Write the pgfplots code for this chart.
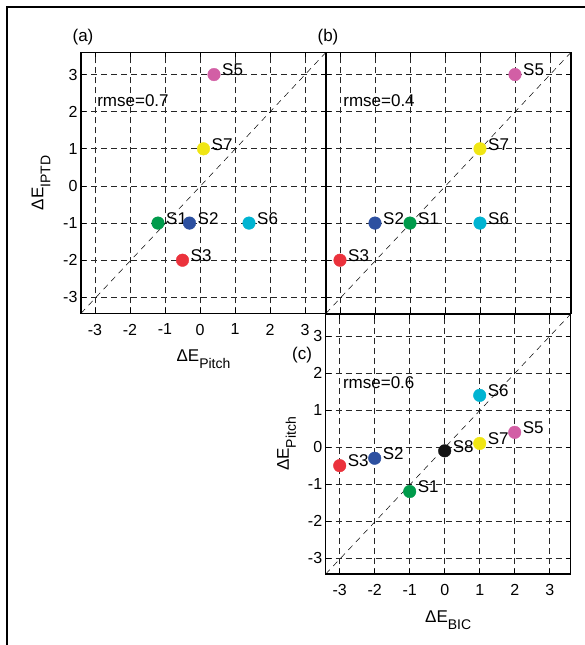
\documentclass[border=0pt]{standalone}
\usepackage{pgfplots}
\pgfplotsset{compat=1.18}
\usepackage{fontspec}
\setmainfont{Liberation Sans}
\definecolor{cS1}{RGB}{0,155,75}
\definecolor{cS2}{RGB}{45,80,160}
\definecolor{cS3}{RGB}{235,50,60}
\definecolor{cS5}{RGB}{210,95,165}
\definecolor{cS6}{RGB}{0,180,210}
\definecolor{cS7}{RGB}{240,230,20}
\definecolor{cS8}{RGB}{20,20,20}
\newcommand{\lsub}[1]{\raisebox{-7pt}{\fontsize{14}{14}\selectfont #1}}
\pgfplotsset{
  panel/.style={
    scale only axis, width=245pt, height=261pt,
    xmin=-3.4, xmax=3.6, ymin=-3.43, ymax=3.6,
    xtick={-3,-2,-1,0,1,2,3}, ytick={-3,-2,-1,0,1,2,3},
    grid=major,
    major grid style={dash pattern=on 6pt off 4pt, black!85, line width=0.7pt},
    tick align=inside, tick pos=both, major tick length=5pt,
    axis line style={line width=1.1pt},
    every tick/.style={black, line width=0.7pt},
    /pgf/number format/assume math mode=true,
    ticklabel style={font=\fontsize{16}{16}\selectfont},
    xticklabel style={yshift=-7pt},
    label style={font=\fontsize{17}{17}\selectfont},
    xlabel style={yshift=-8pt},
    ylabel style={yshift=6pt},
    clip=false,
  },
  spt/.style={only marks, mark=*, mark size=6.3pt, color=#1,
    nodes near coords, point meta=explicit symbolic,
    nodes near coords align={anchor=west},
    every node near coord/.append style={text=black, font=\fontsize{17}{17}\selectfont, inner sep=0pt, xshift=8pt, yshift=4.5pt}},
  diag/.style={black, line width=0.5pt, dash pattern=on 6pt off 5pt, forget plot},
}
\begin{document}
\begin{tikzpicture}
\useasboundingbox (0pt,0pt) rectangle (585pt,-645pt);
\draw[line width=2pt] (7pt,-650pt) -- (7pt,-7pt) -- (590pt,-7pt);

% (a)
\begin{axis}[panel, at={(81pt,-313.3pt)}, anchor=south west,
  xlabel={ΔE\lsub{Pitch}}, ylabel={ΔE\lsub{IPTD}}]
\addplot[diag] coordinates {(-3.4,-3.43) (3.6,3.6)};
\addplot[spt=cS1] coordinates {(-1.2,-1) [S1]};
\addplot[spt=cS2] coordinates {(-0.3,-1) [S2]};
\addplot[spt=cS3] coordinates {(-0.5,-2) [S3]};
\addplot[spt=cS5] coordinates {(0.4,3) [S5]};
\addplot[spt=cS6] coordinates {(1.4,-1) [S6]};
\addplot[spt=cS7] coordinates {(0.1,1) [S7]};
\node[anchor=west, inner sep=0pt, font=\fontsize{17}{17}\selectfont] at (axis cs:-2.94,2.29) {rmse=0.7};
\end{axis}

% (b)
\begin{axis}[panel, at={(326pt,-313.3pt)}, anchor=south west,
  xticklabels={}, yticklabels={}]
\addplot[diag] coordinates {(-3.4,-3.43) (3.6,3.6)};
\addplot[spt=cS1] coordinates {(-1,-1) [S1]};
\addplot[spt=cS2] coordinates {(-2,-1) [S2]};
\addplot[spt=cS3] coordinates {(-3,-2) [S3]};
\addplot[spt=cS5] coordinates {(2,3) [S5]};
\addplot[spt=cS6] coordinates {(1,-1) [S6]};
\addplot[spt=cS7] coordinates {(1,1) [S7]};
\node[anchor=west, inner sep=0pt, font=\fontsize{17}{17}\selectfont] at (axis cs:-2.91,2.29) {rmse=0.4};
\end{axis}

% (c)
\begin{axis}[panel, at={(325.7pt,-574pt)}, anchor=south west, height=260pt,
  xlabel={ΔE\lsub{BIC}}, ylabel={ΔE\lsub{Pitch}}, ylabel style={yshift=-1pt}]
\addplot[diag] coordinates {(-3.4,-3.43) (3.6,3.6)};
\addplot[spt=cS1] coordinates {(-1,-1.2) [S1]};
\addplot[spt=cS2] coordinates {(-2,-0.3) [S2]};
\addplot[spt=cS3] coordinates {(-3,-0.5) [S3]};
\addplot[spt=cS5] coordinates {(2,0.4) [S5]};
\addplot[spt=cS6] coordinates {(1,1.4) [S6]};
\addplot[spt=cS7] coordinates {(1,0.1) [S7]};
\addplot[spt=cS8] coordinates {(0,-0.1) [S8]};
\node[anchor=west, inner sep=0pt, font=\fontsize{17}{17}\selectfont] at (axis cs:-2.91,1.74) {rmse=0.6};
\end{axis}

\node[font=\fontsize{17}{17}\selectfont] at (83pt,-37pt) {(a)};
\node[font=\fontsize{17}{17}\selectfont] at (328pt,-37pt) {(b)};
\node[font=\fontsize{17}{17}\selectfont] at (302pt,-355pt) {(c)};
\end{tikzpicture}
\end{document}
